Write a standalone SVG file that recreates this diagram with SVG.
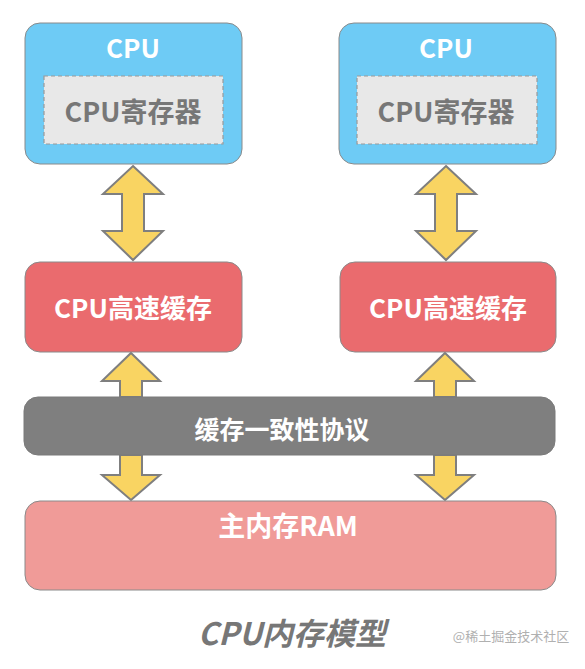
<svg xmlns="http://www.w3.org/2000/svg" width="585" height="669" viewBox="0 0 585 669">
<style>
.cpu{fill:#6ecbf5;stroke:#8a8a8a;stroke-width:1}
.reg{fill:#e8e8e8;stroke:#9a9a9a;stroke-width:1.2;stroke-dasharray:4 3}
.cache{fill:#ea6b6e;stroke:#8a8a8a;stroke-width:1}
.bus{fill:#7f7f7f;stroke:#7a7a7a;stroke-width:1}
.ram{fill:#f09b98;stroke:#8a8a8a;stroke-width:1}
.arr{fill:#f9d462;stroke:#7f7f7f;stroke-width:2;stroke-linejoin:miter}
.t{font-family:"Noto Sans CJK SC","Noto Sans",sans-serif;font-weight:bold;text-anchor:middle;dominant-baseline:central}
.w{fill:#ffffff}
.g{fill:#777777}
</style>
<rect width="585" height="669" fill="#ffffff"/>
<g id="connectors">
<path class="arr" d="M133,166 L163,194 L144,194 L144,231 L163,231 L133,260 L103,231 L122,231 L122,194 L103,194 Z"/>
<path class="arr" d="M446,166 L476,194 L457,194 L457,231 L476,231 L446,260 L416,231 L435,231 L435,194 L416,194 Z"/>
<path class="arr" d="M131,353 L160,381 L142,381 L142,397 L120,397 L120,381 L102,381 Z"/>
<path class="arr" d="M445,353 L474,381 L456,381 L456,397 L434,397 L434,381 L416,381 Z"/>
<path class="arr" d="M131,500 L160,475 L142,475 L142,455 L120,455 L120,475 L102,475 Z"/>
<path class="arr" d="M445,500 L474,475 L456,475 L456,455 L434,455 L434,475 L416,475 Z"/>
</g>
<g id="cpu1">
<rect class="cpu" x="25" y="23" width="217" height="141" rx="15"/>
<text class="t w" x="133" y="46" font-size="26">CPU</text>
<rect class="reg" x="44" y="76" width="179" height="68"/>
<text class="t g" x="133" y="110" font-size="27">CPU寄存器</text>
</g>
<g id="cpu2">
<rect class="cpu" x="339" y="23" width="217" height="141" rx="15"/>
<text class="t w" x="446" y="46" font-size="26">CPU</text>
<rect class="reg" x="357" y="76" width="180" height="68"/>
<text class="t g" x="446" y="110" font-size="27">CPU寄存器</text>
</g>
<g id="cache1">
<rect class="cache" x="25" y="262" width="217" height="90" rx="15"/>
<text class="t w" x="133" y="306" font-size="26">CPU高速缓存</text>
</g>
<g id="cache2">
<rect class="cache" x="340" y="262" width="216" height="90" rx="15"/>
<text class="t w" x="448" y="306" font-size="26">CPU高速缓存</text>
</g>
<g id="bus">
<rect class="bus" x="24" y="397" width="531" height="58" rx="14"/>
<text class="t w" x="282" y="428" font-size="25">缓存一致性协议</text>
</g>
<g id="ram">
<rect class="ram" x="25" y="501" width="531" height="89" rx="15"/>
<text class="t w" x="288" y="524" font-size="27">主内存RAM</text>
</g>
<text class="t g" x="292" y="631" font-size="31" font-style="italic">CPU内存模型</text>
<text x="511" y="641" font-family="Noto Sans CJK SC,sans-serif" font-size="13" fill="#b0b0b0" text-anchor="middle">@稀土掘金技术社区</text>
</svg>
